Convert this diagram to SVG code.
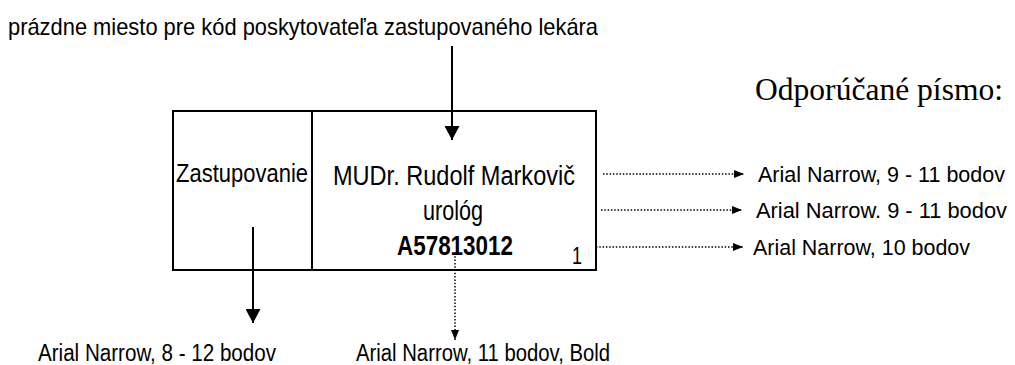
<svg xmlns="http://www.w3.org/2000/svg" width="1015" height="365" viewBox="0 0 1015 365">
<style>
.n{font-family:"Liberation Sans Narrow","Liberation Sans",Arial,sans-serif;fill:#000}
.t{font-family:"Liberation Serif","Times New Roman",serif;fill:#000}
.s{stroke:#000;stroke-width:2;fill:none}
.d{stroke:#000;stroke-width:1.5;fill:none;stroke-dasharray:1.5 1.8}
</style>
<defs>
<marker id="ab" viewBox="0 0 14 15" refX="14" refY="7.5" markerWidth="14" markerHeight="15" markerUnits="userSpaceOnUse" orient="auto"><path d="M0,0L14,7.5L0,15Z" fill="#000"/></marker>
<marker id="as" viewBox="0 0 10 8" refX="10" refY="4" markerWidth="10" markerHeight="8" markerUnits="userSpaceOnUse" orient="auto"><path d="M0,0L10,4L0,8Z" fill="#000"/></marker>
</defs>
<rect width="1015" height="365" fill="#fff"/>
<text class="n" x="8" y="35" font-size="24" textLength="590" lengthAdjust="spacingAndGlyphs">prázdne miesto pre kód poskytovateľa zastupovaného lekára</text>
<text class="t" x="755" y="100" font-size="31" textLength="248" lengthAdjust="spacingAndGlyphs">Odporúčané písmo:</text>
<g id="box">
<rect x="173" y="111" width="423" height="159" class="s"/>
<line x1="312" y1="111" x2="312" y2="270" class="s"/>
</g>
<g id="zastupovanie">
<text class="n" x="176" y="182" font-size="25" textLength="132" lengthAdjust="spacingAndGlyphs">Zastupovanie</text>
</g>
<g id="lekar">
<text class="n" x="333" y="185" font-size="27" textLength="242" lengthAdjust="spacingAndGlyphs">MUDr. Rudolf Markovič</text>
<text class="n" x="423" y="220" font-size="27" textLength="60" lengthAdjust="spacingAndGlyphs">urológ</text>
<text class="n" x="397" y="255" font-size="27" font-weight="bold" textLength="116" lengthAdjust="spacingAndGlyphs">A57813012</text>
<text class="n" x="572" y="264" font-size="23" textLength="10" lengthAdjust="spacingAndGlyphs">1</text>
</g>
<g id="labels">
<text class="n" x="758" y="182" font-size="21.5" textLength="247" lengthAdjust="spacingAndGlyphs">Arial Narrow, 9 - 11 bodov</text>
<text class="n" x="756" y="218" font-size="21.5" textLength="251" lengthAdjust="spacingAndGlyphs">Arial Narrow. 9 - 11 bodov</text>
<text class="n" x="753" y="255" font-size="22" textLength="217" lengthAdjust="spacingAndGlyphs">Arial Narrow, 10 bodov</text>
<text class="n" x="38" y="361" font-size="23" textLength="238" lengthAdjust="spacingAndGlyphs">Arial Narrow, 8 - 12 bodov</text>
<text class="n" x="356" y="361" font-size="23" textLength="254" lengthAdjust="spacingAndGlyphs">Arial Narrow, 11 bodov, Bold</text>
</g>
<g id="connectors">
<line x1="452" y1="46" x2="452" y2="140" class="s" marker-end="url(#ab)"/>
<line x1="253" y1="227" x2="253" y2="323" class="s" marker-end="url(#ab)"/>
<line x1="455" y1="253" x2="455" y2="340" class="d" marker-end="url(#as)"/>
<line x1="603" y1="174" x2="744" y2="174" class="d" marker-end="url(#as)"/>
<line x1="601" y1="210" x2="742" y2="210" class="d" marker-end="url(#as)"/>
<line x1="596" y1="247" x2="743" y2="247" class="d" marker-end="url(#as)"/>
</g>
</svg>
